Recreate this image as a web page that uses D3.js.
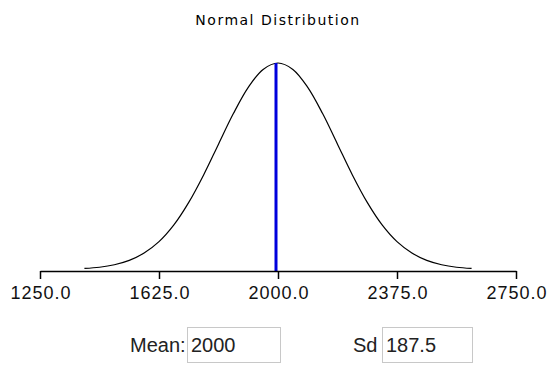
<!DOCTYPE html>
<html>
<head>
<meta charset="utf-8">
<script src="https://cdn.jsdelivr.net/npm/d3@7"></script>
<style>
  body { margin: 0; background: #fff; }
  svg { display: block; }
</style>
</head>
<body>
<div id="chart"></div>
<script>
// values
const title = "Normal Distribution";
const meanValue = 2000;
const sdValue = 187.5;
const tickValues = [1250, 1625, 2000, 2375, 2750];
// curve points: x value and height relative to the peak
const curveX = [1390, 1437.5, 1484.4, 1531.25, 1578.1, 1625, 1671.9, 1718.75, 1765.6, 1812.5, 1859.4, 1906.25, 1953.1,
    2000, 2046.9, 2093.75, 2140.6, 2187.5, 2234.4, 2281.25, 2328.1, 2375, 2421.9, 2468.75, 2515.6, 2562.5, 2610];
const curveY = [0.005, 0.011, 0.023, 0.044, 0.080, 0.135, 0.216, 0.325, 0.458, 0.607, 0.755, 0.882, 0.969,
    1.0, 0.969, 0.882, 0.755, 0.607, 0.458, 0.325, 0.216, 0.135, 0.080, 0.044, 0.023, 0.011, 0.005];

const width = 551, height = 367;

const svg = d3.select("#chart").append("svg")
    .attr("width", width)
    .attr("height", height);

const x = d3.scaleLinear()
    .domain([1250, 2750])
    .range([40, 516]);

const y = d3.scaleLinear()
    .domain([0, 1])
    .range([269.5, 63]);

svg.append("text")
    .attr("x", 278)
    .attr("y", 25)
    .attr("text-anchor", "middle")
    .style("font-family", "'DejaVu Sans', sans-serif")
    .style("font-size", "14px")
    .style("letter-spacing", "1.5px")
    .style("fill", "#000")
    .text(title);

const points = curveX.map((d, i) => ({ x: d, y: curveY[i] }));

const line = d3.line()
    .x(d => x(d.x))
    .y(d => y(d.y))
    .curve(d3.curveCatmullRom);

svg.append("path")
    .datum(points)
    .attr("d", line)
    .attr("fill", "none")
    .attr("stroke", "#000")
    .attr("stroke-width", 1.2);

// mean line
svg.append("line")
    .attr("x1", x(meanValue) - 2)
    .attr("x2", x(meanValue) - 2)
    .attr("y1", y(1))
    .attr("y2", 271)
    .attr("stroke", "#0000dd")
    .attr("stroke-width", 3);

const axis = svg.append("g")
    .attr("transform", "translate(0,271)")
    .call(d3.axisBottom(x)
        .tickValues(tickValues)
        .tickFormat(d3.format(".1f"))
        .tickSize(8)
        .tickSizeOuter(0));

axis.select(".domain").attr("stroke", "#000").attr("stroke-width", 1.5);
axis.selectAll(".tick line").attr("stroke", "#000").attr("stroke-width", 1.5);
axis.selectAll(".tick text")
    .attr("y", 15)
    .attr("dx", "0.5px")
    .style("font-family", "'Liberation Sans', Arial, sans-serif")
    .style("font-size", "18px")
    .style("letter-spacing", "1px")
    .style("fill", "#111");

// input fields
function field(label, value, labelX, boxX, boxW) {
    svg.append("text")
        .attr("x", labelX)
        .attr("y", 352)
        .style("font-family", "'Liberation Sans', Arial, sans-serif")
        .style("font-size", "20px")
        .style("fill", "#222")
        .text(label);
    svg.append("rect")
        .attr("x", boxX + 0.5)
        .attr("y", 327.5)
        .attr("width", boxW)
        .attr("height", 35)
        .attr("fill", "#fff")
        .attr("stroke", "#c8c8c8");
    svg.append("text")
        .attr("x", boxX + 4)
        .attr("y", 352)
        .style("font-family", "'Liberation Sans', Arial, sans-serif")
        .style("font-size", "20px")
        .style("fill", "#222")
        .text(value);
}

field("Mean:", String(meanValue), 130, 187, 93);
field("Sd", String(sdValue), 353, 382, 90);
</script>
</body>
</html>
